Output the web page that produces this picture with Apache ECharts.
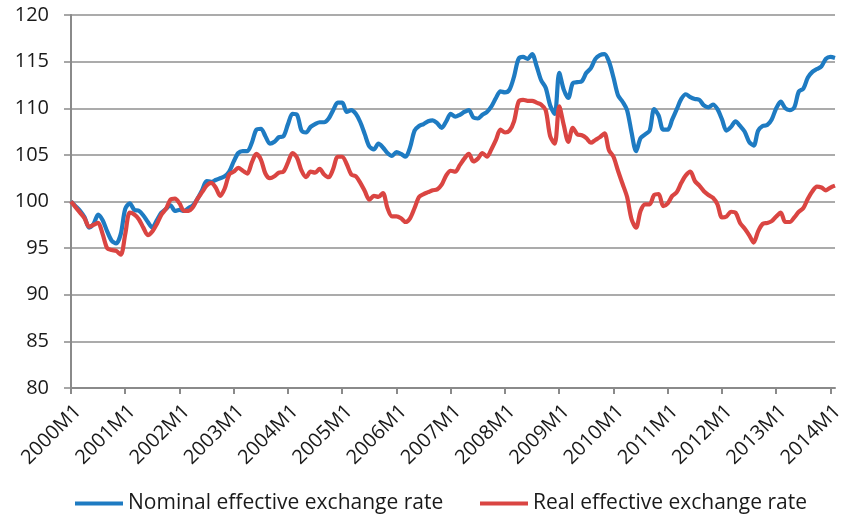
<!DOCTYPE html>
<html>
<head>
<meta charset="utf-8">
<script src="https://cdn.jsdelivr.net/npm/echarts@6/dist/echarts.min.js"></script>
<style>
html,body{margin:0;padding:0;background:#fff;}
#chart{width:841px;height:515px;}
</style>
</head>
<body>
<div id="chart"></div>
<script>
// Monthly observations, 2000M1 .. 2014M2
const startYear = 2000;
const monthCount = 170;
const seriesNames = ['Nominal effective exchange rate', 'Real effective exchange rate'];
const yTicks = [80, 85, 90, 95, 100, 105, 110, 115, 120];

const nominal = [
  100.0, 99.5, 99.0, 98.3, 97.2, 97.6, 98.6, 98.0, 96.8, 95.8, 95.5, 96.5,
  99.2, 99.8, 99.1, 99.0, 98.5, 97.8, 97.2, 98.0, 98.8, 99.2, 99.6, 99.0,
  99.1, 99.0, 99.3, 99.6, 100.3, 101.2, 102.2, 102.1, 102.3, 102.5, 102.7, 103.2,
  104.3, 105.2, 105.4, 105.4, 106.3, 107.7, 107.8, 107.0, 106.2, 106.4, 106.9, 107.0,
  108.3, 109.4, 109.3, 107.6, 107.4, 108.0, 108.3, 108.5, 108.5, 108.9, 109.8, 110.6,
  110.6, 109.6, 109.8, 109.4, 108.5, 107.2, 105.9, 105.6, 106.2, 105.8, 105.2, 104.9,
  105.3, 105.1, 104.8, 105.8, 107.6, 108.1, 108.3, 108.6, 108.7, 108.4, 107.9, 108.6,
  109.4, 109.1, 109.3, 109.6, 109.8, 109.0, 108.9, 109.3, 109.6, 110.2, 111.1, 111.8,
  111.7, 112.0, 113.4, 115.3, 115.5, 115.3, 115.8, 114.5, 113.0, 112.2, 110.3, 109.4,
  113.8, 112.0, 111.1, 112.7, 112.8, 112.9, 113.8, 114.3, 115.3, 115.7, 115.8, 115.0,
  113.3, 111.4, 110.7, 109.8, 107.4, 105.4, 106.8, 107.2, 107.6, 109.9, 109.2, 107.7,
  107.7, 108.8, 109.9, 111.0, 111.5, 111.2, 111.0, 110.9, 110.3, 110.1, 110.4, 109.9,
  108.8, 107.6, 108.0, 108.6, 108.1, 107.5, 106.4, 106.0, 107.6, 108.1, 108.2, 108.8,
  110.0, 110.7, 110.0, 109.8, 110.1, 111.8, 112.1, 113.3, 113.9, 114.2, 114.5, 115.3,
  115.5, 115.4
];

const real = [
  100.0, 99.4, 98.8, 98.2, 97.3, 97.5, 97.7, 96.5, 95.0, 94.8, 94.7, 94.3,
  96.5, 98.8, 98.6, 98.1, 97.2, 96.4, 96.8, 97.6, 98.6, 99.2, 100.2, 100.3,
  99.8, 99.0, 99.0, 99.4, 100.3, 101.0, 101.7, 102.0, 101.5, 100.6, 101.4, 102.9,
  103.2, 103.6, 103.3, 103.0, 104.2, 105.1, 104.5, 103.0, 102.5, 102.7, 103.1, 103.2,
  104.2, 105.2, 104.7, 103.3, 102.6, 103.2, 103.1, 103.5, 102.9, 102.6, 103.5, 104.8,
  104.8, 104.0, 102.9, 102.7, 102.0, 101.1, 100.2, 100.6, 100.5, 100.9, 99.3, 98.4,
  98.4, 98.2, 97.8, 98.2, 99.3, 100.5, 100.8, 101.0, 101.2, 101.3, 101.8, 102.8,
  103.3, 103.2, 103.9, 104.6, 105.1, 104.3, 104.6, 105.2, 104.8, 105.6, 106.6, 107.7,
  107.4, 107.6, 108.6, 110.7, 110.9, 110.8, 110.8, 110.6, 110.4, 109.8, 107.0, 106.2,
  110.2, 108.2, 106.4, 107.9, 107.2, 107.1, 106.8, 106.3, 106.6, 106.9, 107.3, 105.5,
  104.8, 103.3, 101.9, 100.5, 98.1, 97.2, 99.0, 99.7, 99.7, 100.7, 100.8, 99.5,
  99.8, 100.6, 101.0, 102.0, 102.8, 103.2, 102.2, 101.7, 101.1, 100.7, 100.4, 99.7,
  98.3, 98.4, 98.9, 98.8, 97.7, 97.1, 96.4, 95.6, 96.8, 97.6, 97.7, 97.9,
  98.4, 98.8, 97.8, 97.8, 98.3, 98.9, 99.3, 100.3, 101.1, 101.6, 101.5, 101.2,
  101.5, 101.7
];

const categories = [];
for (let i = 0; i < monthCount; i++) {
  categories.push((startYear + Math.floor(i / 12)) + 'M' + (i % 12 + 1));
}

const FONT = '"Open Sans", sans-serif';
const BLUE = '#1E7BC2';
const RED = '#DA4542';
const legendCommon = {
  top: 488, itemWidth: 48, itemHeight: 4, icon: 'rect',
  textStyle: {fontFamily: FONT, fontSize: 21, color: '#1a1a1a'}
};
const chart = echarts.init(document.getElementById('chart'), null, {renderer: 'canvas'});
chart.setOption({
  animation: false,
  backgroundColor: '#ffffff',
  grid: {left: 71, right: 6, top: 15, bottom: 127, containLabel: false, outerBoundsMode: 'none'},
  legend: [
    Object.assign({left: 70, data: [seriesNames[0]]}, legendCommon),
    Object.assign({left: 475, data: [seriesNames[1]]}, legendCommon)
  ],
  xAxis: {
    type: 'category',
    data: categories,
    boundaryGap: false,
    axisLine: {lineStyle: {color: '#8a8a8a', width: 2}},
    axisTick: {show: true, interval: 11, length: 6, lineStyle: {color: '#8a8a8a', width: 2}},
    axisLabel: {interval: 11, rotate: 45, margin: 13, verticalAlign: 'top', hideOverlap: false,
                fontFamily: FONT, fontSize: 20, color: '#1a1a1a'},
    splitLine: {show: false}
  },
  yAxis: {
    type: 'value',
    min: yTicks[0], max: yTicks[yTicks.length - 1], interval: 5,
    axisLine: {show: true, lineStyle: {color: '#8a8a8a', width: 2}},
    axisTick: {show: true, length: 7, lineStyle: {color: '#8a8a8a', width: 1.5}},
    axisLabel: {margin: 22, fontFamily: FONT, fontSize: 20, color: '#1a1a1a'},
    splitLine: {show: true, lineStyle: {color: '#8f8f8f', width: 1.5}}
  },
  series: [
    {name: seriesNames[0], type: 'line', data: nominal, symbol: 'none', smooth: 0.3,
     lineStyle: {color: BLUE, width: 4.2}, itemStyle: {color: BLUE}},
    {name: seriesNames[1], type: 'line', data: real, symbol: 'none', smooth: 0.3,
     lineStyle: {color: RED, width: 4.2}, itemStyle: {color: RED}}
  ]
});
</script>
</body>
</html>
